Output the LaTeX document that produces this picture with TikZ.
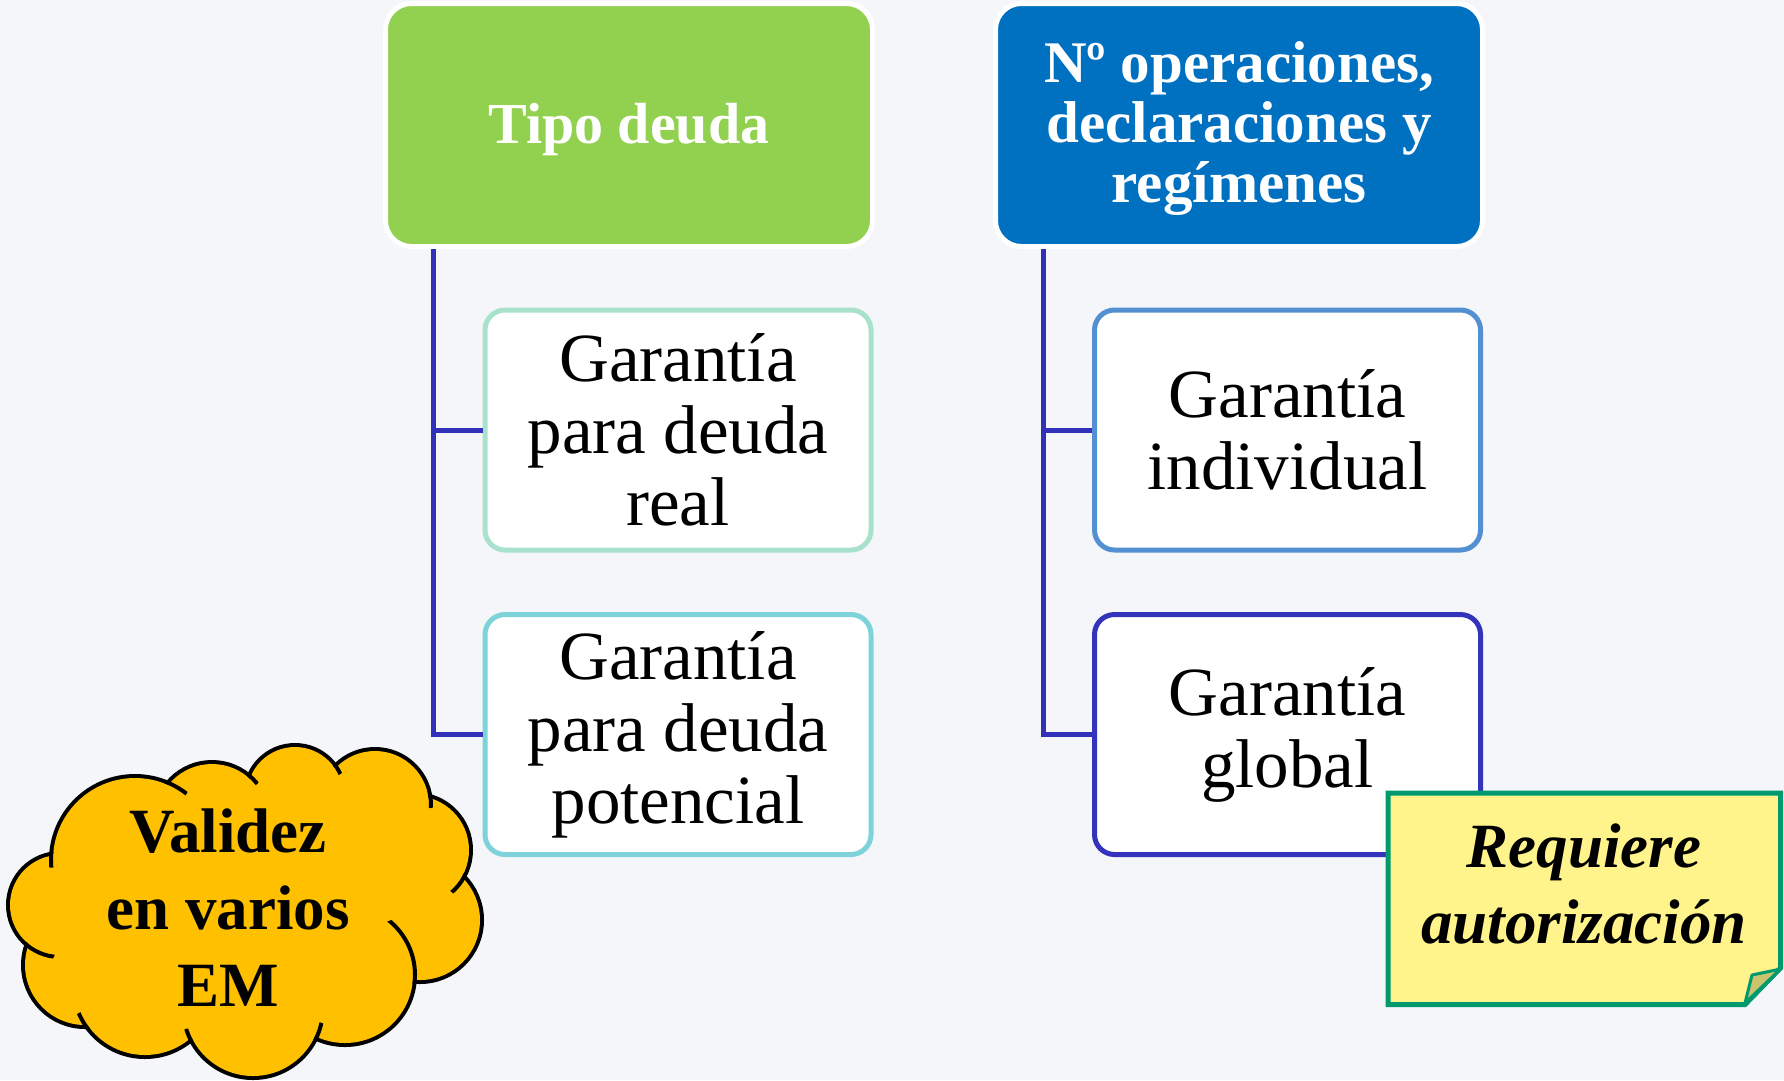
\documentclass[tikz,border=0pt]{standalone}
\usepackage{fontspec}
\setmainfont{Liberation Serif}
\usetikzlibrary{calc}
\definecolor{bg}{HTML}{F4F6FA}
\definecolor{gr}{HTML}{92D050}
\definecolor{bl}{HTML}{0070C0}
\definecolor{connc}{HTML}{3030B8}
\definecolor{mint}{HTML}{A8E2CC}
\definecolor{tealc}{HTML}{7ED3DA}
\definecolor{mblue}{HTML}{5290D2}
\definecolor{dblue}{HTML}{3333BB}
\definecolor{cloudy}{HTML}{FFC000}
\definecolor{noteY}{HTML}{FFF38C}
\definecolor{noteG}{HTML}{009A6E}
\definecolor{foldc}{HTML}{CCC46C}
\newcommand{\crease}[6]{% A center, A radius, B center, B radius, I point, length
  \begin{scope}
    \clip #3 circle[radius=#4];
    \clip #5 circle[radius=#6];
    \draw[black, line width=4pt] #1 circle[radius=#2];
  \end{scope}}
\begin{document}
\begin{tikzpicture}[x=1pt,y=-1pt,
  head/.style={draw=white, line width=5pt, rounded corners=26pt, minimum width=487pt, minimum height=243pt, inner sep=0pt, align=center, text=white, font=\bfseries\fontsize{58}{60}\selectfont},
  child/.style={line width=5pt, fill=white, rounded corners=20pt, minimum width=386pt, minimum height=240pt, inner sep=0pt, align=center, font=\fontsize{69}{72}\selectfont},
  conn/.style={draw=connc, line width=5pt}]
\fill[bg] (0,0) rectangle (1784,1080);

% header boxes
\node[head, fill=gr, text height=49pt] (tipo) at (629,125) {Tipo deuda};
\node[head, fill=bl, text height=169pt, font=\bfseries\fontsize{59}{60}\selectfont] (nops) at (1239,125) {Nº operaciones,\\declaraciones y\\regímenes};

% child boxes
\node[child, draw=mint] (g1) at (678,430) {Garantía\\para deuda\\real};
\node[child, draw=tealc] (g2) at (678,734.5) {Garantía\\para deuda\\potencial};
\node[child, draw=mblue] (g3) at (1287.5,430) {Garantía\\individual};
\node[child, draw=dblue] (g4) at (1287.5,734.5) {Garantía\\global};

% connectors
\coordinate (lt) at ($(tipo.south west)+(50.5,0)$);
\coordinate (rt) at ($(nops.south west)+(50.5,0)$);
\draw[conn] (lt) |- (g2.west);
\draw[conn] (lt) |- (g1.west);
\draw[conn] (rt) |- (g4.west);
\draw[conn] (rt) |- (g3.west);

% cloud
\foreach \cx/\cy/\r in {135/860/82, 212/820/56, 295/795/48, 375/805/54, 415/850/54, 420/920/60, 345/975/68, 253/1008/68, 145/985/70, 85/965/60, 60/905/50}
  \draw[black, line width=8pt] (\cx,\cy) circle[radius=\r];
\foreach \cx/\cy/\r in {135/860/82, 212/820/56, 295/795/48, 375/805/54, 415/850/54, 420/920/60, 345/975/68, 253/1008/68, 145/985/70, 85/965/60, 60/905/50}
  \fill[cloudy] (\cx,\cy) circle[radius=\r];
\fill[cloudy] (245,910) ellipse[x radius=170, y radius=120];
\crease{(135,860)}{84}{(60,905)}{54}{(51.2,853.7)}{14}
\crease{(135,860)}{84}{(212,820)}{60}{(167.7,782.6)}{22}
\crease{(212,820)}{58}{(295,795)}{52}{(248.9,775.4)}{12}
\crease{(295,795)}{50}{(375,805)}{58}{(335.4,765.5)}{10}
\crease{(375,805)}{56}{(415,850)}{58}{(430.3,796.1)}{12}
\crease{(415,850)}{56}{(420,920)}{64}{(464.2,876.6)}{20}
\crease{(345,975)}{70}{(420,920)}{64}{(414.7,981.7)}{66}
\crease{(253,1008)}{70}{(345,975)}{72}{(316.7,1037)}{15}
\crease{(253,1008)}{70}{(145,985)}{74}{(190.2,1040)}{12}
\crease{(145,985)}{72}{(85,965)}{64}{(86.5,1027)}{16}
\crease{(60,905)}{52}{(85,965)}{64}{(26.5,944.7)}{30}
\node[font=\bfseries\fontsize{63}{77}\selectfont, align=center] (val) at (228,908) {Validez\\en varios\\EM};

% note
\draw[noteG, fill=noteY, line width=5pt, line join=miter] (1388,793) -- (1780.5,793) -- (1780.5,968) -- (1745,1004.5) -- (1388,1004.5) -- cycle;
\draw[noteG, fill=foldc, line width=3pt, line join=round] (1745,1003) -- (1752,975) -- (1780.5,969) -- cycle;
\node[font=\bfseries\itshape\fontsize{63}{76}\selectfont, align=center] (req) at (1584,884) {Requiere\\autorización};

\pgfresetboundingbox
\path[use as bounding box] (0,0) rectangle (1784,1080);
\end{tikzpicture}
\end{document}
